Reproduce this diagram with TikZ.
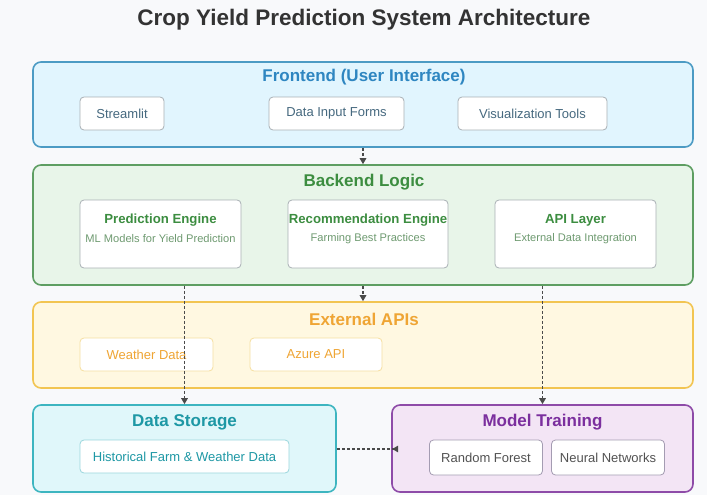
\documentclass[tikz,border=0pt]{standalone}
\usepackage{fontspec}
\setmainfont{Liberation Sans}
\usetikzlibrary{arrows.meta}

\definecolor{bgc}{HTML}{F8F9FB}
\definecolor{feFill}{HTML}{E1F5FE}
\definecolor{feLine}{HTML}{4C9BC4}
\definecolor{feText}{HTML}{2E86C1}
\definecolor{feSub}{HTML}{46697F}
\definecolor{beFill}{HTML}{E8F5E9}
\definecolor{beLine}{HTML}{5E9E62}
\definecolor{beText}{HTML}{3C8D40}
\definecolor{beSub}{HTML}{6E9A70}
\definecolor{exFill}{HTML}{FFF8E1}
\definecolor{exLine}{HTML}{F2C552}
\definecolor{exText}{HTML}{EFA534}
\definecolor{exBox}{HTML}{F6DFA0}
\definecolor{dsFill}{HTML}{E0F7FA}
\definecolor{dsLine}{HTML}{3DB5C0}
\definecolor{dsText}{HTML}{1E98A5}
\definecolor{dsBox}{HTML}{9AD6DD}
\definecolor{mtFill}{HTML}{F3E5F5}
\definecolor{mtLine}{HTML}{8E4BA8}
\definecolor{mtText}{HTML}{7B2F9E}
\definecolor{boxLine}{HTML}{A9B0B5}
\definecolor{arrowc}{HTML}{4A4A4A}
\definecolor{titlec}{HTML}{333333}

\tikzset{
  layer/.style={draw, rounded corners=8pt, line width=1.6pt, anchor=center},
  inbox/.style={draw=boxLine, fill=white, rounded corners=4pt, line width=0.8pt,
    anchor=center, inner sep=0pt},
  layertitle/.style={font=\fontsize{17}{20}\selectfont\bfseries, anchor=center, inner sep=0pt},
  boxtext/.style={font=\fontsize{13}{15}\selectfont, anchor=center, inner sep=0pt},
  subtitle/.style={font=\fontsize{13.2}{15}\selectfont\bfseries, anchor=center, inner sep=0pt},
  subnote/.style={font=\fontsize{11.1}{13}\selectfont, anchor=center, inner sep=0pt},
  flow/.style={draw=arrowc, line width=1.4pt, dash pattern=on 3pt off 2pt,
    -{Triangle[length=6pt,width=6.5pt]}},
}

\begin{document}
\begin{tikzpicture}[x=1pt, y=-1pt]
  % canvas
  \fill[bgc] (0,0) rectangle (707,495);
  \useasboundingbox (0,0) rectangle (707,495);

  % heading
  \node[font=\fontsize{22.5}{26}\selectfont\bfseries, text=titlec, anchor=center]
    (heading) at (364,20) {Crop Yield Prediction System Architecture};

  % frontend layer
  \node[layer, draw=feLine, fill=feFill, minimum width=660pt, minimum height=85pt]
    (fe) at (363,104.5) {};
  \node[layertitle, text=feText] (feT) at (364,77) {Frontend (User Interface)};
  \node[inbox, minimum width=84pt, minimum height=33pt] (stl) at (122,113.5) {};
  \node[boxtext, text=feSub] (stlT) at (stl) {Streamlit};
  \node[inbox, minimum width=135pt, minimum height=33pt] (dif) at (336.5,113.5) {};
  \node[boxtext, text=feSub] (difT) at (dif) {Data Input Forms};
  \node[inbox, minimum width=149pt, minimum height=33pt] (vis) at (532.5,113.5) {};
  \node[boxtext, text=feSub] (visT) at (vis) {Visualization Tools};

  % backend layer
  \node[layer, draw=beLine, fill=beFill, minimum width=660pt, minimum height=120pt]
    (be) at (363,225) {};
  \node[layertitle, text=beText] (beT) at (364,182) {Backend Logic};
  \node[inbox, minimum width=161pt, minimum height=68pt] (pe) at (160.5,234) {};
  \node[subtitle, text=beText] (peT) at (160.5,220) {Prediction Engine};
  \node[subnote, text=beSub] (peS) at (160.5,239) {ML Models for Yield Prediction};
  \node[inbox, minimum width=160pt, minimum height=68pt] (re) at (368,234) {};
  \node[subtitle, text=beText] (reT) at (368,220) {Recommendation Engine};
  \node[subnote, text=beSub] (reS) at (368,239) {Farming Best Practices};
  \node[inbox, minimum width=161pt, minimum height=68pt] (api) at (575.5,234) {};
  \node[subtitle, text=beText] (apiT) at (575.5,220) {API Layer};
  \node[subnote, text=beSub] (apiS) at (575.5,239) {External Data Integration};

  % external APIs layer
  \node[layer, draw=exLine, fill=exFill, minimum width=660pt, minimum height=86pt]
    (ex) at (363,345) {};
  \node[layertitle, text=exText] (exT) at (364,319) {External APIs};
  \node[inbox, draw=exBox, minimum width=133pt, minimum height=33pt] (wd) at (146.5,354.5) {};
  \node[boxtext, text=exText] (wdT) at (wd) {Weather Data};
  \node[inbox, draw=exBox, minimum width=132pt, minimum height=33pt] (az) at (316,354.5) {};
  \node[boxtext, text=exText] (azT) at (az) {Azure API};

  % data storage
  \node[layer, draw=dsLine, fill=dsFill, minimum width=303pt, minimum height=87pt]
    (ds) at (184.5,448.5) {};
  \node[layertitle, text=dsText] (dsT) at (184.5,422) {Data Storage};
  \node[inbox, draw=dsBox, minimum width=209pt, minimum height=33pt] (hist) at (184.5,456.5) {};
  \node[boxtext, text=dsText] (histT) at (hist) {Historical Farm \& Weather Data};

  % model training
  \node[layer, draw=mtLine, fill=mtFill, minimum width=301pt, minimum height=87pt]
    (mt) at (542.5,448.5) {};
  \node[layertitle, text=mtText] (mtT) at (542.5,422) {Model Training};
  \node[inbox, draw=boxLine!80!mtLine, minimum width=113pt, minimum height=35pt] (rf) at (486,457.5) {};
  \node[boxtext, text=titlec!85] (rfT) at (rf) {Random Forest};
  \node[inbox, draw=boxLine!80!mtLine, minimum width=113pt, minimum height=35pt] (nn) at (608,457.5) {};
  \node[boxtext, text=titlec!85] (nnT) at (nn) {Neural Networks};

  % connectors
  \draw[flow] (fe.south) -- (be.north);
  \draw[flow] (be.south) -- (ex.north);
  \draw[flow] (be.south -| ds.north) -- (ds.north);
  \draw[flow] (be.south -| mt.north) -- (mt.north);
  \coordinate (linkY) at (0,449);
  \coordinate (mtIn) at ([xshift=7pt]mt.west |- linkY);
  \draw[draw=arrowc, line width=1.4pt, dash pattern=on 3pt off 2pt,
    -{Triangle[length=6pt,width=6.5pt,reversed]}] (ds.east |- linkY) -- (mtIn);
\end{tikzpicture}
\end{document}
